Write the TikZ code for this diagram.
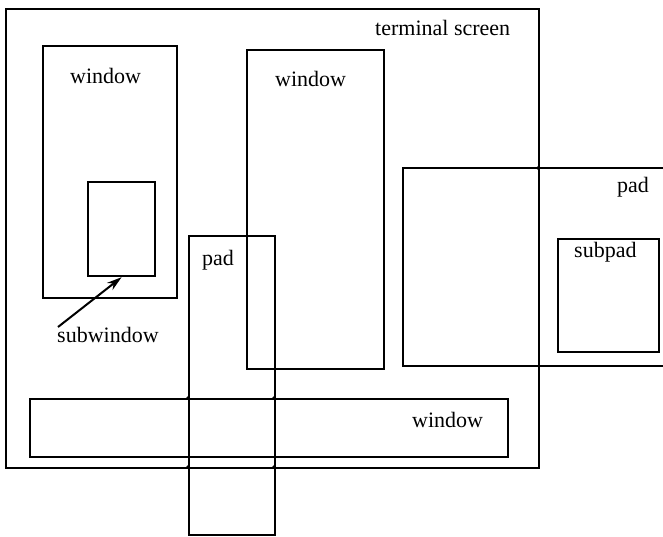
\documentclass[tikz,border=0pt]{standalone}
\usepackage{fontspec}
\setmainfont{Liberation Serif}
\usetikzlibrary{arrows.meta}
\begin{document}
\begin{tikzpicture}[x=1pt,y=-1pt,
  box/.style={draw, line width=2.2pt, inner sep=0pt, anchor=north west},
  padbox/.style={draw, line width=1.7pt, inner sep=0pt, anchor=north west},
  lbl/.style={font=\fontsize{22}{26}\selectfont, inner sep=0pt, anchor=base west},
  jdot/.style={fill=black, circle, inner sep=0pt, minimum size=3.6pt},
  ptr/.style={line width=2pt, -{Stealth[length=15pt,width=9pt]}},
  ]
\useasboundingbox (0,0) rectangle (663,536);
% terminal screen
\node[box, line width=2.4pt, minimum width=533pt, minimum height=459pt] (ts) at (5,8) {};
% windows
\node[box, minimum width=134pt, minimum height=252pt] (w1) at (42,45) {};
\node[box, minimum width=67pt, minimum height=94pt] (sw) at (87,181) {};
\node[box, minimum width=137pt, minimum height=319pt] (w2) at (246,49) {};
\node[box, minimum width=478pt, minimum height=58pt] (w3) at (29,398) {};
% pads
\node[padbox, minimum width=86pt, minimum height=299pt] (p1) at (188,235) {};
\coordinate (p2tr) at (663,168);
\coordinate (p2tl) at (403,168);
\coordinate (p2bl) at (403,366);
\coordinate (p2br) at (663,366);
\draw[line width=1.9pt] (p2tr) -- (p2tl) -- (p2bl) -- (p2br);
\node[box, line width=2.4pt, minimum width=101pt, minimum height=113pt] (sp) at (557,238) {};
% junction dots
\node[jdot] (j1) at (538,168) {};
\node[jdot] (j2) at (188,398) {};
\node[jdot] (j3) at (274,398) {};
\node[jdot] (j4) at (188,467) {};
\node[jdot] (j5) at (274,467) {};
% labels
\node[lbl] (tsl) at (375,35) {terminal screen};
\node[lbl] (w1l) at (70,83) {window};
\node[lbl] (w2l) at (275,86) {window};
\node[lbl] (w3l) at (412,427) {window};
\node[lbl] (p1l) at (202,265) {pad};
\node[lbl] (p2l) at (617,192) {pad};
\node[lbl] (spl) at (574,257) {subpad};
\node[lbl] (swl) at (57,342) {subwindow};
% pointer
\coordinate (arrS) at (58,327);
\draw[ptr] (arrS) -- (sw.south);
\end{tikzpicture}
\end{document}
